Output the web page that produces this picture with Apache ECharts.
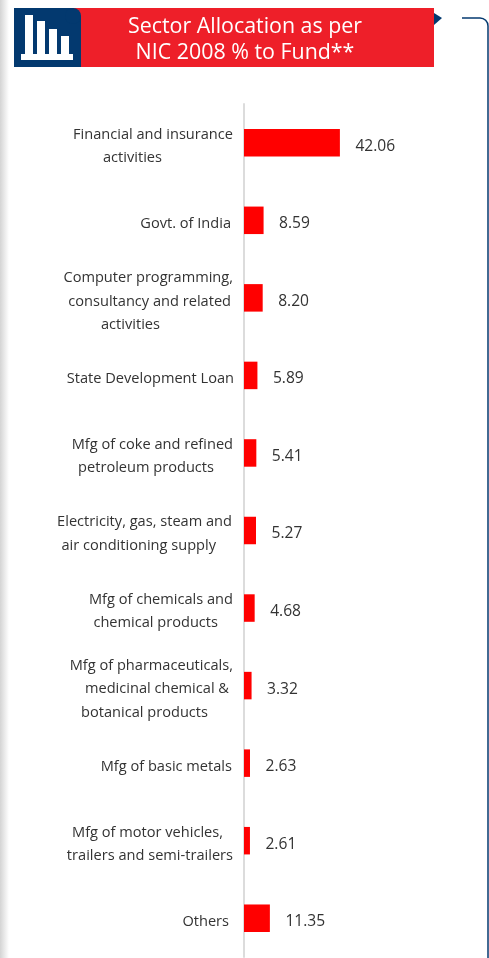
<!DOCTYPE html>
<html><head><meta charset="utf-8">
<style>html,body{margin:0;padding:0;background:#fff}#c{width:489px;height:958px}</style>
<script src="https://cdn.jsdelivr.net/npm/echarts@6/dist/echarts.min.js"></script>
</head><body><div id="c"></div>
<script>
const titleLines = ['Sector Allocation as per', 'NIC 2008 % to Fund**'];
const categories = [
  'Financial and insurance\nactivities',
  'Govt. of India',
  'Computer programming,\nconsultancy and related\nactivities',
  'State Development Loan',
  'Mfg of coke and refined\npetroleum products',
  'Electricity, gas, steam and\nair conditioning supply',
  'Mfg of chemicals and\nchemical products',
  'Mfg of pharmaceuticals,\nmedicinal chemical &\nbotanical products',
  'Mfg of basic metals',
  'Mfg of motor vehicles,\ntrailers and semi-trailers',
  'Others'
];
const values = [42.06, 8.59, 8.20, 5.89, 5.41, 5.27, 4.68, 3.32, 2.63, 2.61, 11.35];
// right-edge inset of each label line, styling only
const lineInsets = [[1,72],[3],[1,3,74],[0],[1,20],[2,18],[1,16],[1,5,26],[2],[11,1],[5]];

const FONT = '"Open Sans"';
const rich = {};
for (let p = 0; p <= 80; p++) {
  rich['p' + p] = {fontFamily: FONT, fontSize: 14.6, color: '#333', lineHeight: 23.5, align: 'right', padding: [7, p, 0, 0]};
}
const chart = echarts.init(document.getElementById('c'), null, {renderer: 'canvas'});
const navy = '#03396f';
chart.setOption({
  animation: false,
  backgroundColor: '#fff',
  grid: {left: 244, top: 104, width: 228, height: 853, containLabel: false},
  xAxis: {type: 'value', min: 0, max: 100, show: false},
  yAxis: {
    type: 'category', inverse: true, data: categories,
    axisLine: {show: true, onZero: false, lineStyle: {color: '#dcdcdc', width: 2}},
    axisTick: {show: false},
    axisLabel: {
      margin: 10, interval: 0, align: 'right',
      formatter: (v) => {
        const i = categories.indexOf(v);
        return v.split('\n').map((l, k) => `{p${lineInsets[i][k]}|${l}}`).join('\n');
      },
      rich
    }
  },
  series: [{
    type: 'bar', data: values, barWidth: 27.5,
    itemStyle: {color: '#ff0000'},
    label: {
      show: true, position: 'right', distance: 15.5, offset: [0, 3.5],
      formatter: (p) => p.value.toFixed(2),
      fontFamily: FONT, fontSize: 15.6, color: '#333'
    }
  }],
  graphic: [
    {type: 'rect', z: 0, shape: {x: 0, y: 0, width: 9, height: 958},
      style: {fill: new echarts.graphic.LinearGradient(0, 0, 1, 0, [{offset: 0, color: '#d4d4d4'}, {offset: 1, color: '#ffffff'}])}},
    {type: 'polygon', shape: {points: [[434, 13], [442, 18], [434, 25]]}, style: {fill: navy}},
    {type: 'rect', shape: {x: 14, y: 8, width: 420, height: 59}, style: {fill: '#ee1f29'}},
    {type: 'polygon', shape: {points: [[14, 8], [73, 8], [81, 16], [81, 67], [14, 67]]}, style: {fill: navy}},
    {type: 'circle', shape: {cx: 73, cy: 16, r: 8}, style: {fill: navy}},
    {type: 'rect', shape: {x: 21, y: 54, width: 52, height: 6}, style: {fill: '#fff'}},
    {type: 'rect', shape: {x: 25, y: 15, width: 8, height: 40}, style: {fill: '#fff'}},
    {type: 'rect', shape: {x: 37, y: 21, width: 8, height: 34}, style: {fill: '#fff'}},
    {type: 'rect', shape: {x: 49, y: 29, width: 8, height: 26}, style: {fill: '#fff'}},
    {type: 'rect', shape: {x: 61, y: 36, width: 8, height: 19}, style: {fill: '#fff'}},
    {type: 'text', style: {x: 245, y: 27, text: titleLines[0], fill: '#fff', font: '21.4px ' + FONT, textAlign: 'center', textVerticalAlign: 'middle'}},
    {type: 'text', style: {x: 245, y: 53, text: titleLines[1], fill: '#fff', font: '21.4px ' + FONT, textAlign: 'center', textVerticalAlign: 'middle'}},
    {type: 'line', shape: {x1: 462, y1: 18, x2: 480, y2: 18}, style: {stroke: navy, lineWidth: 1.5}},
    {type: 'arc', shape: {cx: 480, cy: 26, r: 8, startAngle: -Math.PI / 2, endAngle: 0, clockwise: true}, style: {fill: 'none', stroke: navy, lineWidth: 1.5}},
    {type: 'line', shape: {x1: 488, y1: 26, x2: 488, y2: 958}, style: {stroke: navy, lineWidth: 1.5}}
  ]
});
</script></body></html>
